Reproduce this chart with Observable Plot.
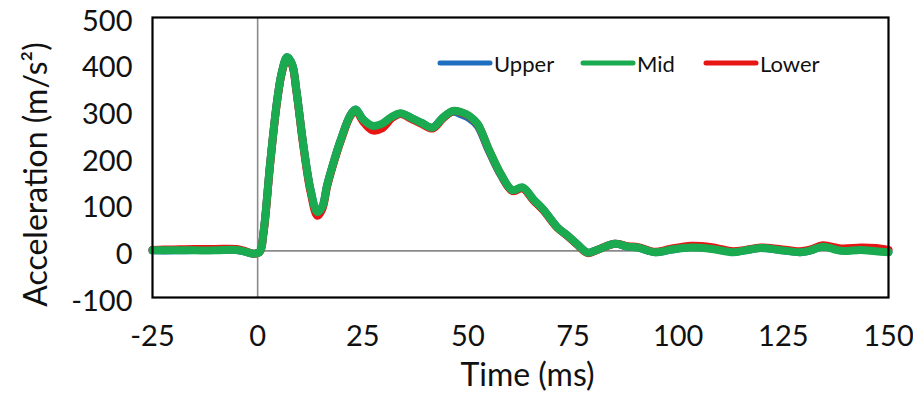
<!DOCTYPE html>
<html>
<head>
<meta charset="utf-8">
<script src="https://cdn.jsdelivr.net/npm/d3@7"></script>
<script src="https://cdn.jsdelivr.net/npm/@observablehq/plot@0.6"></script>
<style>
  html, body { margin: 0; padding: 0; background: #fff; }
  #wrap { position: relative; width: 913px; height: 393px; font-family: Lato, "Open Sans", sans-serif; }
  .legend-item { position: absolute; top: 50px; height: 26px; display: flex; align-items: center; font-size: 22px; color: #111; }
  .legend-item svg { display: block; margin-right: 1px; }
</style>
</head>
<body>
<div id="wrap"></div>
<script>
// Sample times (ms) shared by the three accelerometer traces
const time = [-25, -20, -15, -10, -5, -2.5, -1, 0.5, 1.4, 3, 4.6, 5.8, 7, 8.2, 9.2, 10.9, 12.6, 14.2, 15.4, 16.5, 18, 19.7, 22, 23.3, 25, 27.3, 29.5, 32, 34, 36.5, 39, 41.6, 44, 46.4, 48.5, 50.2, 52.3, 54.9, 57.8, 60.6, 63, 65.6, 68, 71.3, 73.7, 76, 78.5, 81, 85, 88, 90.5, 94.5, 98, 103, 108, 113, 116, 119.6, 124, 129, 131.5, 134.4, 138.7, 143.4, 147, 150];

// Acceleration (m/s²) per sensor position
const upper = [1, 1, 2, 2, 2, -3, -6, -2, 40, 190, 320, 385, 415, 400, 345, 225, 130, 80, 95, 140, 188, 236, 290, 303, 282, 266, 270, 286, 294, 285, 274, 264, 285, 298, 292, 285, 268, 216, 163, 129, 135, 109, 87, 50, 32, 14, -4, 3, 15, 9, 7, -3, 2, 8, 5, -2, 1, 6, 2, -3, 1, 10, 1, 3, 0, -2];
const mid = [1, 1, 1, 1, 2, -3, -6, -2, 40, 190, 320, 385, 415, 400, 345, 225, 130, 83, 95, 140, 188, 236, 290, 303, 282, 268, 272, 288, 295, 285, 274, 264, 285, 300, 297, 290, 272, 219, 165, 130, 136, 110, 88, 50, 33, 14, -4, 3, 15, 9, 7, -3, 2, 7, 4, -3, 1, 6, 2, -3, 1, 9, 0, 2, -1, -3];
const lower = [2, 3, 4, 4, 4, -2, -6, -2, 38, 188, 318, 383, 413, 398, 343, 222, 125, 75, 90, 137, 186, 234, 288, 301, 278, 258, 262, 285, 293, 283, 272, 262, 283, 299, 296, 289, 271, 218, 164, 128, 134, 108, 86, 49, 32, 13, -5, 3, 15, 10, 8, -2, 4, 11, 8, -1, 2, 7, 4, -1, 3, 12, 5, 7, 6, 2];

const seriesNames = ["Upper", "Mid", "Lower"];
const seriesColors = ["#1f6fc0", "#1aab50", "#e81515"];

const xTicks = [-25, 0, 25, 50, 75, 100, 125, 150];
const yTicks = [-100, 0, 100, 200, 300, 400, 500];

const rows = (values, name) => time.map((t, i) => ({time: t, value: values[i], series: name}));
const upperRows = rows(upper, "Upper");
const midRows = rows(mid, "Mid");
const lowerRows = rows(lower, "Lower");

const lineStyle = {x: "time", y: "value", strokeWidth: 8, curve: "catmull-rom", strokeLinejoin: "round", strokeLinecap: "round"};

const chart = Plot.plot({
  width: 913,
  height: 393,
  marginLeft: 152,
  marginRight: 25,
  marginTop: 17,
  marginBottom: 96,
  x: {domain: [-25, 150]},
  y: {domain: [-100, 500]},
  style: {fontFamily: "Lato, 'Open Sans', sans-serif", background: "white", color: "#111"},
  marks: [
    Plot.ruleY([0], {stroke: "#8a8a8a", strokeWidth: 1.6}),
    Plot.ruleX([0], {stroke: "#8a8a8a", strokeWidth: 1.6}),
    Plot.line(upperRows, {...lineStyle, stroke: seriesColors[0]}),
    Plot.line(lowerRows, {...lineStyle, stroke: seriesColors[2]}),
    Plot.line(midRows, {...lineStyle, stroke: seriesColors[1]}),
    Plot.frame({stroke: "#000", strokeWidth: 2.2}),
    Plot.axisX(xTicks, {tickSize: 0, tickPadding: 28, fontSize: 29, tickFormat: d => String(d), label: null}),
    Plot.axisY(yTicks, {tickSize: 0, tickPadding: 20, fontSize: 29, dy: 4, tickFormat: d => String(d), label: null}),
    Plot.text(["Time (ms)"], {frameAnchor: "bottom", textAnchor: "middle", lineAnchor: "bottom", dx: 7, dy: 88, fontSize: 32, fill: "#111"}),
    Plot.text(["Acceleration (m/s²)"], {frameAnchor: "left", textAnchor: "middle", lineAnchor: "bottom", rotate: -90, dx: -106, dy: 17, fontSize: 32, fill: "#111"})
  ]
});

const wrap = document.getElementById("wrap");
wrap.appendChild(chart);

// Line-swatch legend placed inside the plot's upper right area
const legendLeft = [437, 580, 703];
seriesNames.forEach((name, i) => {
  const item = document.createElement("div");
  item.className = "legend-item";
  item.style.left = legendLeft[i] + "px";
  item.innerHTML = `<svg width="56" height="10"><line x1="3" y1="5" x2="53" y2="5" stroke="${seriesColors[i]}" stroke-width="5" stroke-linecap="round"/></svg><span>${name}</span>`;
  wrap.appendChild(item);
});
</script>
</body>
</html>
